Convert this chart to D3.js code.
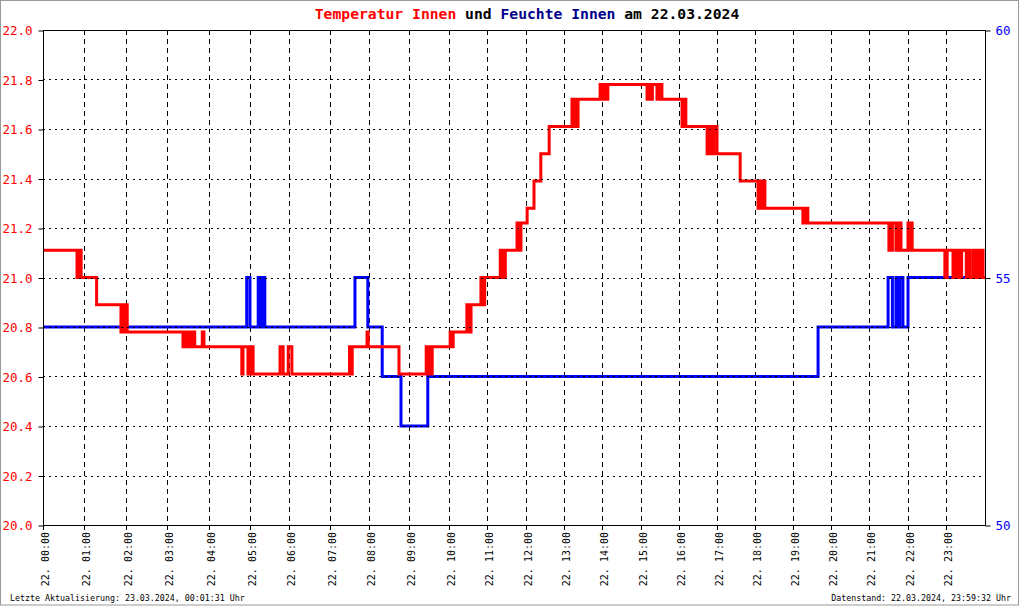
<!DOCTYPE html>
<html>
<head>
<meta charset="utf-8">
<script src="https://cdn.jsdelivr.net/npm/d3@7"></script>
<style>
  html, body { margin: 0; padding: 0; background: #fff; }
  svg { display: block; }
  text { font-family: "DejaVu Sans Mono", "Liberation Mono", monospace; }
</style>
</head>
<body>
<svg id="chart" width="1020" height="606"></svg>
<script>
// ---------- data ----------
const hourLabels = ["22. 00:00","22. 01:00","22. 02:00","22. 03:00","22. 04:00","22. 05:00",
  "22. 06:00","22. 07:00","22. 08:00","22. 09:00","22. 10:00","22. 11:00","22. 12:00",
  "22. 13:00","22. 14:00","22. 15:00","22. 16:00","22. 17:00","22. 18:00","22. 19:00",
  "22. 20:00","22. 21:00","22. 22:00","22. 23:00"];
// number of logged samples in each hour (x axis runs by sample index)
const samplesPerHour = [41,42,41,42,41,39,41,39,40,40,38,39,38,38,39,38,38,38,38,38,38,39,38,39];

const tempTicks = [20.0,20.2,20.4,20.6,20.8,21.0,21.2,21.4,21.6,21.8,22.0];
const humTicks = [50,55,60];

// Temperatur Innen (time in hours, value in °C), step data
const tempTime = [0,0.83,0.85,0.88,0.90,0.93,1.30,1.88,1.93,1.98,2.00,2.03,
  3.38,3.42,3.45,3.48,3.52,3.55,3.58,3.62,3.66,3.84,3.88,
  4.80,4.83,4.95,4.98,5.03,5.05,5.08,5.77,5.85,5.98,6.07,
  7.50,7.54,7.57,7.95,7.98,8.75,9.43,9.47,9.51,9.55,9.58,
  10.03,10.07,10.11,10.47,10.52,10.58,10.84,10.89,10.94,11.34,11.40,11.47,
  11.77,11.82,11.87,12.03,12.21,12.39,12.61,
  13.21,13.25,13.30,13.34,13.37,13.95,14.00,14.05,14.10,14.15,
  15.16,15.20,15.26,15.30,15.42,15.47,15.55,16.08,16.13,16.18,
  16.74,16.80,16.85,16.92,17.00,17.61,18.08,18.13,18.18,18.22,18.26,
  19.26,19.30,19.35,19.37,19.39,
  21.51,21.53,21.58,21.60,21.69,21.72,21.75,21.78,21.82,22.00,22.05,22.08,22.11,
  22.97,23.03,23.18,23.20,23.27,23.30,23.36,23.40,23.52,23.56,23.62,23.70,23.74,23.80,23.86,23.90,23.95,24.0];
const tempValue = [21.11,21.0,21.11,21.0,21.11,21.0,20.89,20.78,20.89,20.78,20.89,20.78,
  20.72,20.78,20.72,20.78,20.72,20.78,20.72,20.78,20.72,20.78,20.72,
  20.61,20.72,20.61,20.72,20.61,20.72,20.61,20.72,20.61,20.72,20.61,
  20.72,20.61,20.72,20.78,20.72,20.61,20.72,20.61,20.72,20.61,20.72,
  20.78,20.72,20.78,20.89,20.78,20.89,21.0,20.89,21.0,21.11,21.0,21.11,
  21.22,21.11,21.22,21.28,21.39,21.5,21.61,
  21.72,21.61,21.72,21.61,21.72,21.78,21.72,21.78,21.72,21.78,
  21.72,21.78,21.72,21.78,21.72,21.78,21.72,21.61,21.72,21.61,
  21.5,21.61,21.5,21.61,21.5,21.39,21.28,21.39,21.28,21.39,21.28,
  21.22,21.28,21.22,21.28,21.22,
  21.11,21.22,21.11,21.22,21.11,21.22,21.11,21.22,21.11,21.22,21.11,21.22,21.11,
  21.0,21.11,21.0,21.11,21.0,21.11,21.0,21.11,21.0,21.11,21.0,21.11,21.0,21.11,21.0,21.11,21.0,21.0];

// Feuchte Innen (time in hours, value in %), step data
const humTime  = [0,4.92,5.00,5.21,5.26,5.31,5.38,7.64,7.97,8.33,8.80,9.47,19.66,21.49,21.60,21.69,21.74,21.79,21.87,22.00,24.0];
const humValue = [54,55,54,55,54,55,54,55,54,53,52,53,54,55,54,55,54,55,54,55,55];

// ---------- layout ----------
const svg = d3.select("#chart");
const L = 43, R = 985, T = 30, B = 525;

const cum = [0];
samplesPerHour.forEach((n, i) => cum.push(cum[i] + n));
const hourToIndex = d3.scaleLinear().domain(d3.range(25)).range(cum);
const x = d3.scaleLinear().domain([0, cum[cum.length - 1]]).range([L, R]);
const xt = h => x(hourToIndex(h));
const yT = d3.scaleLinear().domain([20, 22]).range([B, T]);
const yH = d3.scaleLinear().domain([50, 60]).range([B, T]);

// outer border
svg.append("rect").attr("x", 0.5).attr("y", 0.5).attr("width", 1018).attr("height", 604.5)
  .attr("fill", "#fff").attr("stroke", "#999");

// vertical grid (dashed)
svg.append("g").selectAll("line").data(d3.range(1, 24)).join("line")
  .attr("x1", d => Math.round(xt(d)) + 0.5).attr("x2", d => Math.round(xt(d)) + 0.5)
  .attr("y1", T).attr("y2", B)
  .attr("stroke", "#000").attr("stroke-width", 1).attr("stroke-dasharray", "5,4");

// lines
const tempData = tempTime.map((t, i) => [t, tempValue[i]]);
const humData = humTime.map((t, i) => [t, humValue[i]]);

svg.append("path").datum(humData)
  .attr("fill", "none").attr("stroke", "#0000ff").attr("stroke-width", 3)
  .attr("d", d3.line().x(d => xt(d[0])).y(d => yH(d[1])).curve(d3.curveStepAfter));

svg.append("path").datum(tempData)
  .attr("fill", "none").attr("stroke", "#ff0000").attr("stroke-width", 3)
  .attr("d", d3.line().x(d => xt(d[0])).y(d => yT(d[1])).curve(d3.curveStepAfter));

// horizontal grid (dotted)
svg.append("g").selectAll("line").data(tempTicks.slice(1, -1)).join("line")
  .attr("x1", L).attr("x2", R)
  .attr("y1", d => Math.round(yT(d)) + 0.5).attr("y2", d => Math.round(yT(d)) + 0.5)
  .attr("stroke", "#000").attr("stroke-width", 1).attr("stroke-dasharray", "2,4");

// frame
svg.append("rect").attr("x", L + 0.5).attr("y", T + 0.5).attr("width", R - L).attr("height", B - T)
  .attr("fill", "none").attr("stroke", "#000").attr("stroke-width", 1);

// left axis
const gl = svg.append("g").attr("transform", `translate(${L + 0.5},0.5)`)
  .call(d3.axisLeft(yT).tickValues(tempTicks).tickFormat(d3.format(".1f")).tickSize(5).tickPadding(6));
gl.select(".domain").remove();
gl.selectAll("text").attr("fill", "#ff0000").style("font-size", "12.5px")
  .style("font-family", "'DejaVu Sans Mono', monospace");

// right axis
const gr = svg.append("g").attr("transform", `translate(${R + 0.5},0.5)`)
  .call(d3.axisRight(yH).tickValues(humTicks).tickFormat(d3.format("d")).tickSize(5).tickPadding(5));
gr.select(".domain").remove();
gr.selectAll("text").attr("fill", "#0000ff").style("font-size", "12.5px")
  .style("font-family", "'DejaVu Sans Mono', monospace");

// bottom axis ticks and rotated labels
const gb = svg.append("g");
gb.selectAll("line").data(d3.range(0, 24)).join("line")
  .attr("x1", d => Math.round(xt(d)) + 0.5).attr("x2", d => Math.round(xt(d)) + 0.5)
  .attr("y1", B).attr("y2", B + 5).attr("stroke", "#000");
gb.selectAll("text").data(d3.range(0, 24)).join("text")
  .attr("transform", d => `translate(${Math.round(xt(d)) + 2},${B + 7}) rotate(-90)`)
  .attr("text-anchor", "end").attr("dy", "0.35em")
  .style("font-size", "10px").attr("fill", "#000")
  .text(d => hourLabels[d]);

// title
const title = svg.append("text").attr("x", 527).attr("y", 19).attr("text-anchor", "middle")
  .style("font-size", "14.7px").style("font-weight", "bold");
title.append("tspan").attr("fill", "#ff0000").text("Temperatur Innen");
title.append("tspan").attr("fill", "#000").text(" und ");
title.append("tspan").attr("fill", "#00008b").text("Feuchte Innen");
title.append("tspan").attr("fill", "#000").text(" am 22.03.2024");

// footers
svg.append("text").attr("x", 10).attr("y", 601).style("font-size", "8.3px").attr("fill", "#000")
  .text("Letzte Aktualisierung: 23.03.2024, 00:01:31 Uhr");
svg.append("text").attr("x", 1011).attr("y", 601).attr("text-anchor", "end")
  .style("font-size", "8.3px").attr("fill", "#000")
  .text("Datenstand: 22.03.2024, 23:59:32 Uhr");
</script>
</body>
</html>
